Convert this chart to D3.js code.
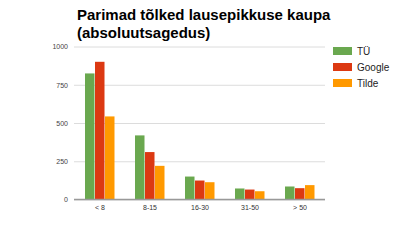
<!DOCTYPE html>
<html>
<head>
<meta charset="utf-8">
<script src="https://cdn.jsdelivr.net/npm/d3@7"></script>
<style>
    body { margin: 0; background: #fff; }
    svg { display: block; font-family: "Liberation Sans", Arial, sans-serif; }
</style>
</head>
<body>
<svg id="chart"></svg>
<script>
let categories = ["< 8", "8-15", "16-30", "31-50", "> 50"];
let seriesNames = ["TÜ", "Google", "Tilde"];
let tuValues = [824, 419, 150, 72, 85];
let googleValues = [900, 310, 124, 65, 74];
let tildeValues = [543, 220, 113, 54, 94];
let yTicks = [0, 250, 500, 750, 1000];

window.onload = () =>
{
    let width = 400;
    let height = 247;
    let colors = ["#6aa84f", "#dc3912", "#ff9900"];
    let series = [tuValues, googleValues, tildeValues];

    let svg = d3.select("#chart").attr("width", width).attr("height", height);

    let x = d3.scaleBand().domain(categories).range([75, 325]).paddingInner(0.4).paddingOuter(0.2);
    let xInner = d3.scaleBand().domain(seriesNames).range([0, x.bandwidth()]);
    let y = d3.scaleLinear().domain([0, 1000]).range([199.5, 46.5]);

    // title
    let title = svg.append("text")
        .attr("x", 77)
        .attr("y", 20)
        .style("font-size", "15px")
        .style("font-weight", "bold")
        .attr("fill", "#000");
    title.append("tspan").attr("x", 77).text("Parimad tõlked lausepikkuse kaupa");
    title.append("tspan").attr("x", 77).attr("dy", 18).text("(absoluutsagedus)");

    // grid + y labels
    let yAxis = d3.axisLeft(y)
        .tickValues(yTicks)
        .tickFormat(d3.format("d"))
        .tickSize(-(325 - 74))
        .tickPadding(6);

    let gy = svg.append("g")
        .attr("transform", "translate(74,0)")
        .call(yAxis);
    gy.select(".domain").remove();
    gy.selectAll(".tick line").attr("stroke", "#dcdcdc");
    gy.selectAll(".tick text")
        .attr("fill", "#444")
        .style("font-size", "7px");

    // bars
    series.forEach((values, s) =>
    {
        svg.append("g")
            .attr("fill", colors[s])
            .selectAll("rect")
            .data(values)
            .join("rect")
            .attr("x", (d, i) => x(categories[i]) + xInner(seriesNames[s]))
            .attr("y", d => y(d))
            .attr("width", xInner.bandwidth() - 0.5)
            .attr("height", d => y(0) - y(d));
    });

    // baseline + x labels
    let xAxis = d3.axisBottom(x).tickSize(0).tickPadding(6).tickSizeOuter(0);
    let gx = svg.append("g")
        .attr("transform", `translate(0,${y(0)})`)
        .call(xAxis);
    gx.select(".domain").remove();
    gx.append("line")
        .attr("x1", 74).attr("x2", 325)
        .attr("stroke", "#999")
        .attr("stroke-width", 1.5);
    gx.selectAll(".tick text")
        .attr("fill", "#333")
        .style("font-size", "7px");

    // legend
    let legend = svg.append("g")
        .selectAll("g")
        .data(seriesNames)
        .join("g")
        .attr("transform", (d, i) => `translate(333,${47 + i * 16})`);
    legend.append("rect")
        .attr("width", 19)
        .attr("height", 8)
        .attr("fill", (d, i) => colors[i]);
    legend.append("text")
        .attr("x", 24)
        .attr("y", 8)
        .style("font-size", "10px")
        .attr("fill", "#222")
        .text(d => d);
};
</script>
</body>
</html>
